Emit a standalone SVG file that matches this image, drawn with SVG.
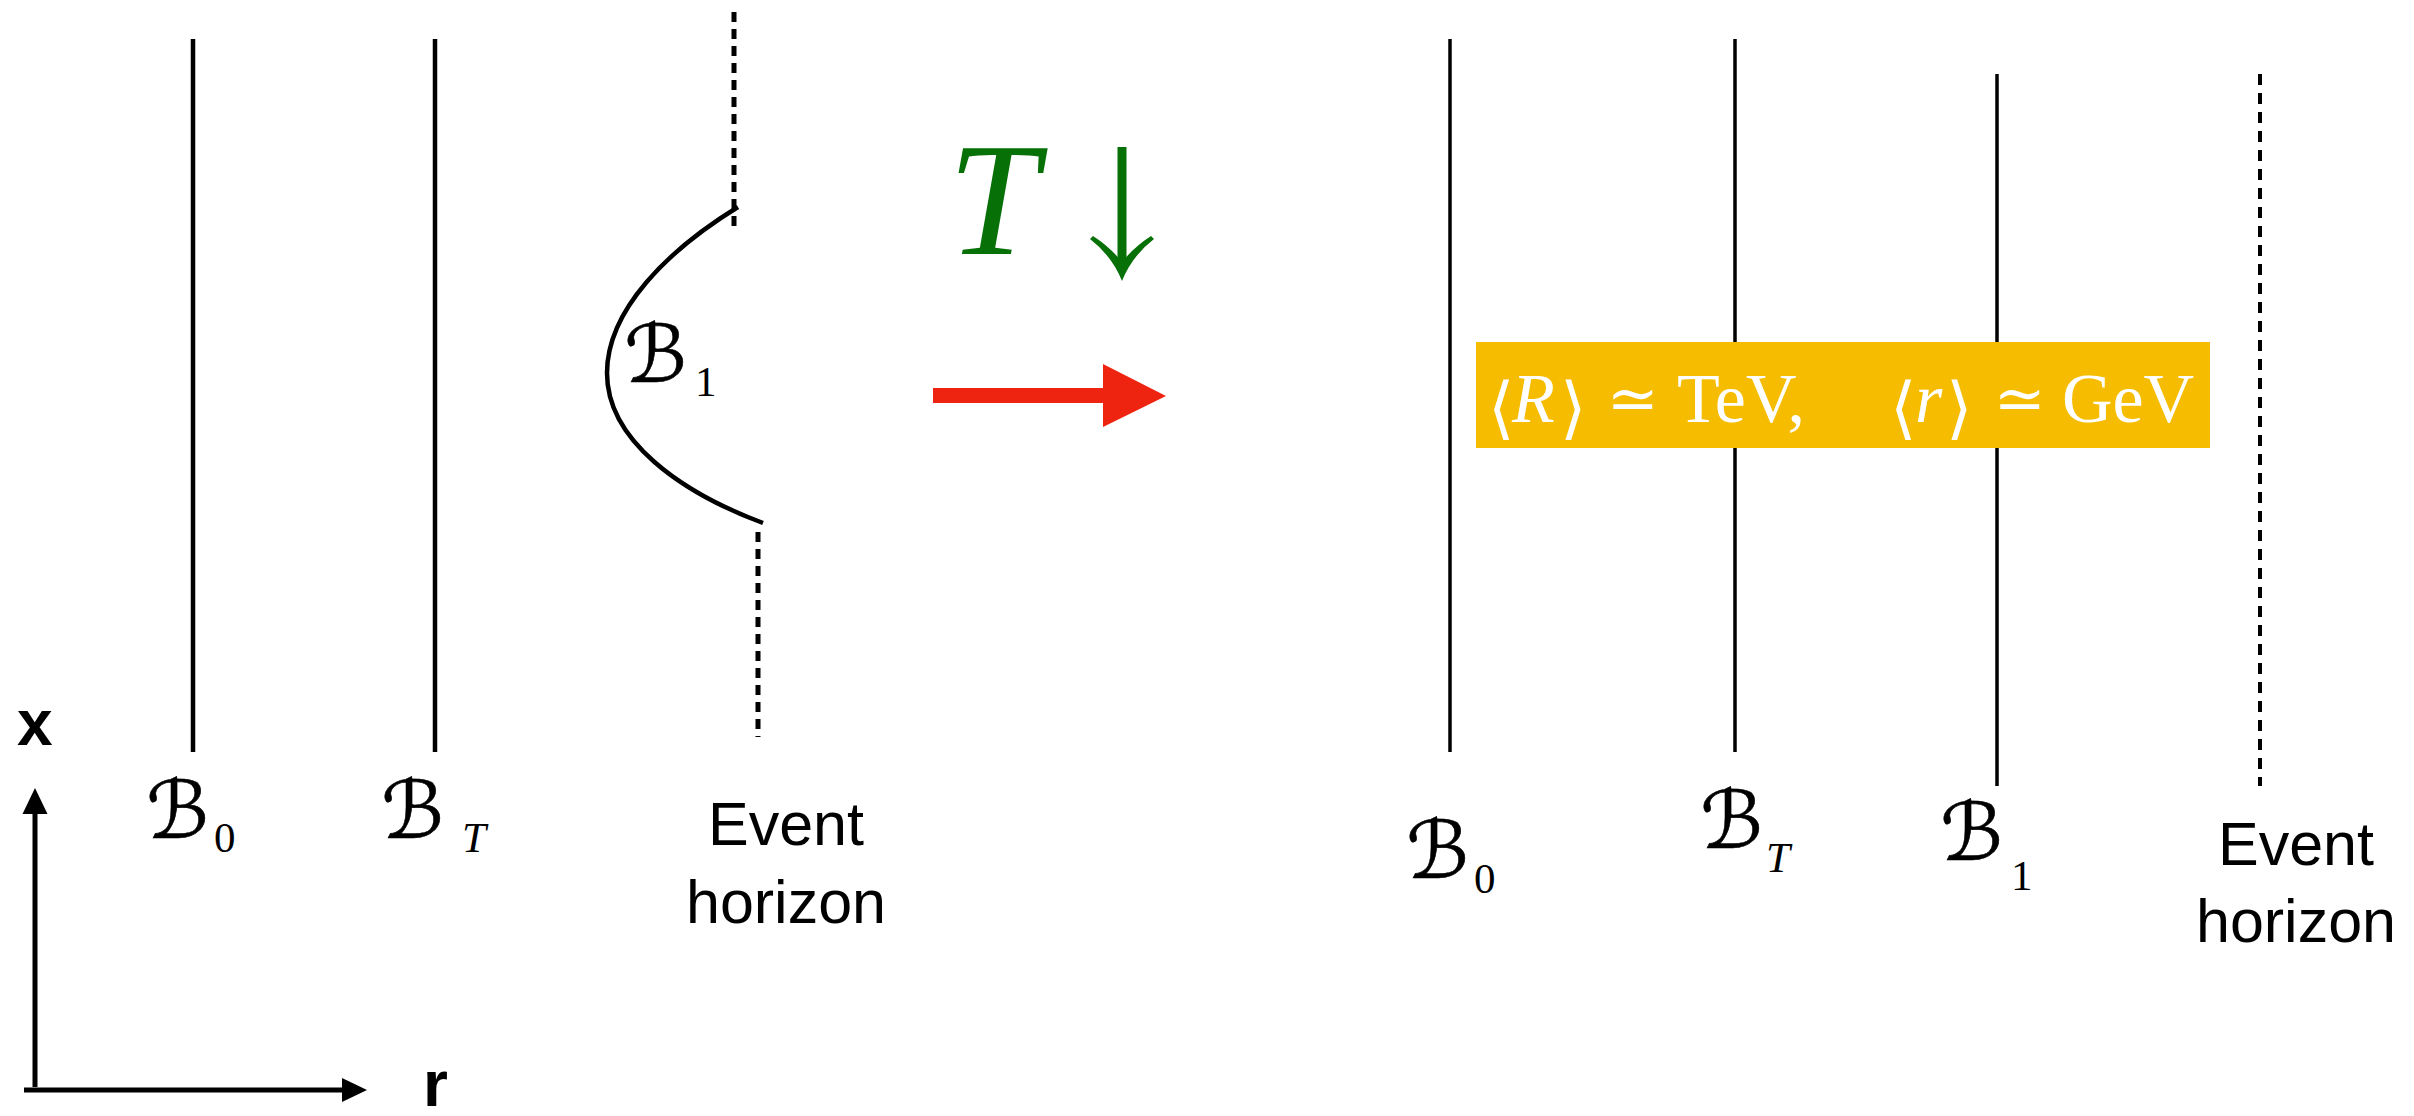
<svg xmlns="http://www.w3.org/2000/svg" width="2414" height="1116" viewBox="0 0 2414 1116">
<style>
.wl{stroke:#000;stroke-width:4.5;fill:none}
.wr{stroke:#000;stroke-width:3.5;fill:none}
.dl{stroke:#000;stroke-width:5;fill:none;stroke-dasharray:10 7}
.dr{stroke:#000;stroke-width:4;fill:none;stroke-dasharray:11 8}
.sc{font-family:"DejaVu Serif","DejaVu Sans",serif;font-size:80px;font-style:italic;fill:#000;stroke:#000;stroke-width:0.6}
.sub{font-family:"Liberation Serif","DejaVu Serif",serif;font-size:43px;fill:#000}
.subi{font-family:"Liberation Serif","DejaVu Serif",serif;font-size:43px;font-style:italic;fill:#000}
.eh{font-family:"Liberation Sans",Arial,sans-serif;font-size:61px;fill:#000;text-anchor:middle}
.ax{font-family:"Liberation Sans",Arial,sans-serif;font-size:64px;font-weight:bold;fill:#000}
.bx{font-family:"Liberation Serif","DejaVu Serif",serif;font-size:70px;fill:#fff}
.br{font-family:"DejaVu Serif","DejaVu Sans",serif;font-size:68px;fill:#fff}
.eq{font-family:"DejaVu Serif","DejaVu Sans",serif;font-size:62px;fill:#fff;text-anchor:middle}
</style>
<rect width="2414" height="1116" fill="#fff"/>

<!-- Left panel -->
<g id="left-B0">
  <line class="wl" x1="193" y1="39" x2="193" y2="752"/>
  <text x="146" y="838" class="sc">ℬ</text><text x="214" y="852" class="sub">0</text>
</g>
<g id="left-BT">
  <line class="wl" x1="435" y1="39" x2="435" y2="752"/>
  <text x="381" y="838" class="sc">ℬ</text><text x="462" y="852" class="subi">T</text>
</g>
<g id="left-B1">
  <path class="wl" d="M738,207 C668,250 607,310 607,373 C607,440 680,492 763,523"/>
  <text x="624" y="382" class="sc">ℬ</text><text x="695" y="396" class="sub">1</text>
</g>
<g id="left-horizon">
  <line class="dl" x1="734" y1="12" x2="734" y2="228"/>
  <line class="dl" x1="758" y1="532" x2="758" y2="737"/>
  <text x="786" y="845" class="eh">Event</text>
  <text x="786" y="923" class="eh">horizon</text>
</g>

<!-- Transition -->
<g id="temperature-label">
  <text x="948" y="254" font-family="Liberation Serif,serif" font-style="italic" font-size="162" fill="#077007">T</text>
  <rect x="1117.5" y="147" width="9" height="118" fill="#077007"/>
  <path d="M1090,239 Q1112,256 1122,281 Q1132,256 1154,239 L1151,236 Q1134,247 1122,262 Q1110,247 1093,236 Z" fill="#077007"/>
</g>

<g id="connectors">
  <path d="M933,388 L1103,388 L1103,364 L1166,396 L1103,427 L1103,403 L933,403 Z" fill="#EE2410"/>
  <line x1="35" y1="1087" x2="35" y2="810" stroke="#000" stroke-width="5"/>
  <path d="M35,788 L47.5,814 L22.5,814 Z" fill="#000"/>
  <line x1="24" y1="1090" x2="345" y2="1090" stroke="#000" stroke-width="5"/>
  <path d="M367,1090 L342,1102 L342,1078 Z" fill="#000"/>
</g>
<g id="axis-labels">
  <text x="17" y="745" class="ax">x</text>
  <text x="423" y="1106" class="ax">r</text>
</g>

<!-- Right panel -->
<g id="right-B0">
  <line class="wr" x1="1450" y1="39" x2="1450" y2="752"/>
  <text x="1406" y="878" class="sc">ℬ</text><text x="1474" y="893" class="sub">0</text>
</g>
<g id="right-BT">
  <line class="wr" x1="1735" y1="39" x2="1735" y2="752"/>
  <text x="1700" y="848" class="sc">ℬ</text><text x="1766" y="872" class="subi">T</text>
</g>
<g id="right-B1">
  <line class="wr" x1="1997" y1="74" x2="1997" y2="786"/>
  <text x="1940" y="860" class="sc">ℬ</text><text x="2011" y="890" class="sub">1</text>
</g>
<g id="right-horizon">
  <line class="dr" x1="2260" y1="74" x2="2260" y2="786"/>
  <text x="2296" y="865" class="eh">Event</text>
  <text x="2296" y="942" class="eh">horizon</text>
</g>

<g id="vev-box">
  <rect x="1476" y="342" width="734" height="106" fill="#F6BC00"/>
  <text x="1488" y="431" class="br">⟨</text>
  <text x="1512" y="422" class="bx" font-style="italic">R</text>
  <text x="1560" y="431" class="br">⟩</text>
  <text x="1633" y="420" class="eq">≃</text>
  <text x="1677" y="422" class="bx">TeV,</text>
  <text x="1890" y="431" class="br">⟨</text>
  <text x="1915" y="422" class="bx" font-style="italic">r</text>
  <text x="1946" y="431" class="br">⟩</text>
  <text x="2020" y="420" class="eq">≃</text>
  <text x="2062" y="422" class="bx">GeV</text>
</g>
</svg>
